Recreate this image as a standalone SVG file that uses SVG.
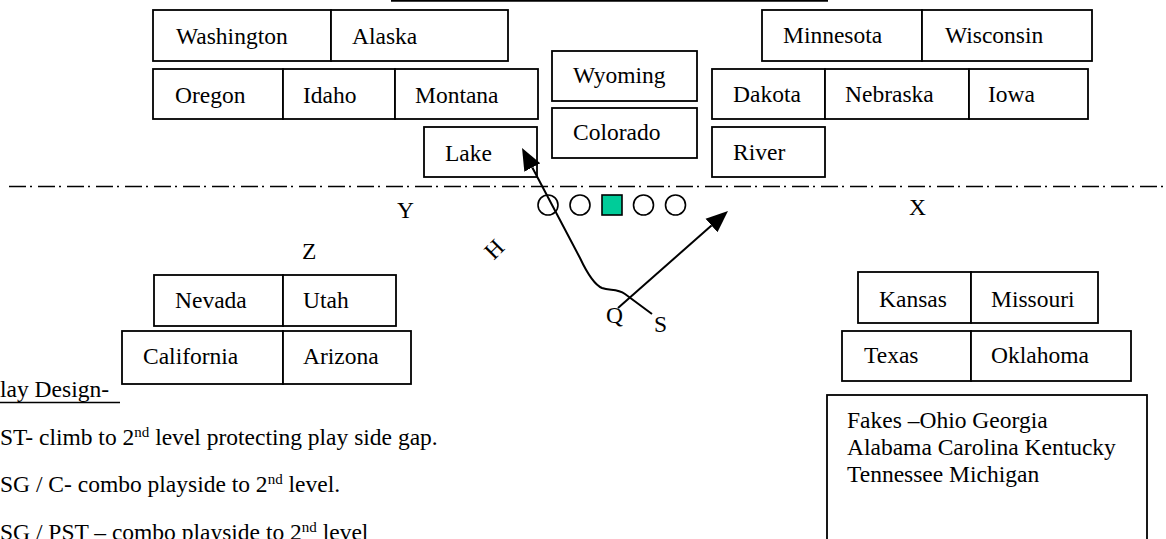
<svg xmlns="http://www.w3.org/2000/svg" width="1166" height="539" viewBox="0 0 1166 539">
  <defs>
    <style>
      .cell { fill: #ffffff; stroke: #000000; stroke-width: 1.8; }
      .lbl { font-family: "Liberation Serif", "Times New Roman", serif; font-size: 23.5px; fill: #000000; }
      .body { font-family: "Liberation Serif", "Times New Roman", serif; font-size: 23.5px; fill: #000000; }
      .route { fill: none; stroke: #000000; stroke-width: 2; }
      .man { fill: #ffffff; stroke: #000000; stroke-width: 1.6; }
      .sup { font-size: 15px; }
    </style>
    <marker id="head" markerUnits="userSpaceOnUse" markerWidth="24" markerHeight="20" refX="0" refY="0" viewBox="0 -10 24 20" orient="auto">
      <path d="M0,-9 L22,0 L0,9 z" fill="#000000"/>
    </marker>
  </defs>
  <rect width="1166" height="539" fill="#ffffff"/>

  <!-- heading rule -->
  <line x1="391" y1="0.9" x2="828" y2="0.9" stroke="#000000" stroke-width="1.8"/>

  <!-- line of scrimmage -->
  <line x1="9" y1="186.5" x2="1166" y2="186.5" stroke="#000000" stroke-width="1.7" stroke-dasharray="17 4 2 6"/>

  <!-- upper left blocks -->
  <g id="washington"><rect class="cell" x="153" y="10" width="178" height="51"/><text class="lbl" x="176" y="44">Washington</text></g>
  <g id="alaska"><rect class="cell" x="331" y="10" width="177" height="51"/><text class="lbl" x="352" y="44">Alaska</text></g>
  <g id="oregon"><rect class="cell" x="153" y="69" width="130" height="50"/><text class="lbl" x="175" y="103">Oregon</text></g>
  <g id="idaho"><rect class="cell" x="283" y="69" width="112" height="50"/><text class="lbl" x="303" y="103">Idaho</text></g>
  <g id="montana"><rect class="cell" x="395" y="69" width="143" height="50"/><text class="lbl" x="415" y="103">Montana</text></g>
  <g id="lake"><rect class="cell" x="424" y="127" width="113" height="50"/><text class="lbl" x="445" y="161">Lake</text></g>

  <!-- middle blocks -->
  <g id="wyoming"><rect class="cell" x="552" y="51" width="145" height="50"/><text class="lbl" x="573" y="83">Wyoming</text></g>
  <g id="colorado"><rect class="cell" x="552" y="108" width="145" height="50"/><text class="lbl" x="573" y="140">Colorado</text></g>

  <!-- upper right blocks -->
  <g id="minnesota"><rect class="cell" x="762" y="10" width="160" height="51"/><text class="lbl" x="783" y="43">Minnesota</text></g>
  <g id="wisconsin"><rect class="cell" x="922" y="10" width="170" height="51"/><text class="lbl" x="945" y="43">Wisconsin</text></g>
  <g id="dakota"><rect class="cell" x="712" y="69" width="113" height="50"/><text class="lbl" x="733" y="102">Dakota</text></g>
  <g id="nebraska"><rect class="cell" x="825" y="69" width="144" height="50"/><text class="lbl" x="845" y="102">Nebraska</text></g>
  <g id="iowa"><rect class="cell" x="969" y="69" width="119" height="50"/><text class="lbl" x="988" y="102">Iowa</text></g>
  <g id="river"><rect class="cell" x="712" y="127" width="113" height="50"/><text class="lbl" x="733" y="160">River</text></g>

  <!-- lower left blocks -->
  <g id="nevada"><rect class="cell" x="154" y="275" width="129" height="51"/><text class="lbl" x="175" y="308">Nevada</text></g>
  <g id="utah"><rect class="cell" x="283" y="275" width="113" height="51"/><text class="lbl" x="303" y="308">Utah</text></g>
  <g id="california"><rect class="cell" x="122" y="331" width="161" height="53"/><text class="lbl" x="143" y="364">California</text></g>
  <g id="arizona"><rect class="cell" x="283" y="331" width="128" height="53"/><text class="lbl" x="303" y="364">Arizona</text></g>

  <!-- lower right blocks -->
  <g id="kansas"><rect class="cell" x="858" y="272" width="113" height="51"/><text class="lbl" x="879" y="307">Kansas</text></g>
  <g id="missouri"><rect class="cell" x="971" y="272" width="127" height="51"/><text class="lbl" x="991" y="307">Missouri</text></g>
  <g id="texas"><rect class="cell" x="842" y="331" width="129" height="50"/><text class="lbl" x="864" y="363">Texas</text></g>
  <g id="oklahoma"><rect class="cell" x="971" y="331" width="160" height="50"/><text class="lbl" x="991" y="363">Oklahoma</text></g>

  <!-- fakes note -->
  <g id="fakes">
    <rect class="cell" x="827" y="395" width="320" height="170"/>
    <text class="lbl" x="847" y="428">Fakes –Ohio Georgia</text>
    <text class="lbl" x="847" y="455">Alabama Carolina Kentucky</text>
    <text class="lbl" x="847" y="482">Tennessee Michigan</text>
  </g>

  <!-- offensive line -->
  <g id="line">
    <circle class="man" cx="548" cy="205" r="10"/>
    <circle class="man" cx="580" cy="205" r="10"/>
    <rect x="602" y="195" width="20" height="20" fill="#00cc99" stroke="#000000" stroke-width="1.6"/>
    <circle class="man" cx="643.5" cy="205" r="10"/>
    <circle class="man" cx="675.5" cy="205" r="10"/>
  </g>

  <!-- skill positions -->
  <g id="labels">
    <text class="lbl" x="397" y="218">Y</text>
    <text class="lbl" x="909" y="215">X</text>
    <text class="lbl" x="302" y="259">Z</text>
    <text class="lbl" x="494" y="249" text-anchor="middle" dominant-baseline="central" transform="rotate(-45 494 249)">H</text>
    <text class="lbl" x="606" y="323">Q</text>
    <text class="lbl" x="654" y="332">S</text>
  </g>

  <!-- routes -->
  <g id="connectors">
    <path class="route" d="M652,314 L625,294 C617,288 610,291 602,288 C595,285 588,275 580,258 L532.3,167.5" marker-end="url(#head)"/>
    <path class="route" d="M618,308 L711.5,225.5" marker-end="url(#head)"/>
  </g>

  <!-- play notes -->
  <g id="notes">
    <text class="body" x="0" y="397">lay Design-</text>
    <line x1="0" y1="402.5" x2="120" y2="402.5" stroke="#000000" stroke-width="1.5"/>
    <text class="body" x="0" y="445">ST- climb to 2<tspan class="sup" dy="-8">nd</tspan><tspan dy="8"> level protecting play side gap.</tspan></text>
    <text class="body" x="0" y="492">SG / C- combo playside to 2<tspan class="sup" dy="-8">nd</tspan><tspan dy="8"> level.</tspan></text>
    <text class="body" x="0" y="540">SG / PST – combo playside to 2<tspan class="sup" dy="-8">nd</tspan><tspan dy="8"> level</tspan></text>
  </g>
</svg>
